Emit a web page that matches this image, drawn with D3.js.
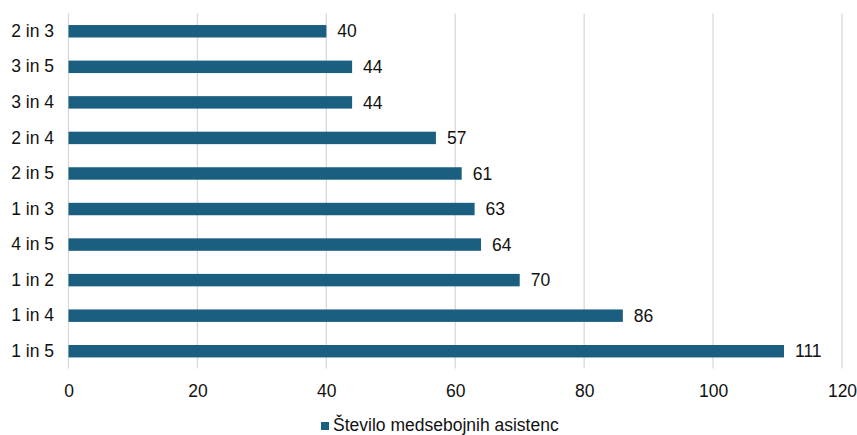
<!DOCTYPE html>
<html>
<head>
<meta charset="utf-8">
<script src="https://cdn.jsdelivr.net/npm/d3@7"></script>
<style>
  html, body { margin: 0; padding: 0; background: #fff; }
  svg text { font-family: "Liberation Sans", Arial, sans-serif; fill: #111; }
</style>
</head>
<body>
<svg id="chart" width="857" height="435"></svg>
<script>
// Pairs, listed top to bottom
const categories = ["2 in 3", "3 in 5", "3 in 4", "2 in 4", "2 in 5", "1 in 3", "4 in 5", "1 in 2", "1 in 4", "1 in 5"];
const values = [40, 44, 44, 57, 61, 63, 64, 70, 86, 111];
const xTicks = [0, 20, 40, 60, 80, 100, 120];
const seriesName = "Število medsebojnih asistenc";

const barColor = "#1a5e80";
const gridColor = "#d9d9d9";
const fontSize = 17.5;

const svg = d3.select("#chart");

const x = d3.scaleLinear().domain([0, 120]).range([68.5, 842]);
const y = d3.scaleBand().domain(categories).range([13.5, 369]).paddingInner(0.65).paddingOuter(0.325);

// vertical gridlines
svg.append("g").selectAll("line").data(xTicks).join("line")
  .attr("x1", d => x(d)).attr("x2", d => x(d))
  .attr("y1", 13.5).attr("y2", 368.5)
  .attr("stroke", gridColor).attr("stroke-width", 1.3);

// x tick labels
const xAxis = d3.axisBottom(x).tickValues(xTicks).tickSize(0).tickPadding(0);
const gx = svg.append("g").attr("transform", "translate(0,397)").call(xAxis);
gx.attr("font-size", null).attr("font-family", null);
gx.select(".domain").remove();
gx.selectAll("text").attr("y", 0).attr("dy", null)
  .style("font-size", fontSize + "px").style("fill", "#111");

// y category labels
const yAxis = d3.axisLeft(y).tickSize(0).tickPadding(0);
const gy = svg.append("g").attr("transform", "translate(54,0)").call(yAxis);
gy.attr("font-size", null).attr("font-family", null);
gy.select(".domain").remove();
gy.selectAll("text").style("font-size", fontSize + "px").style("fill", "#111");

// bars
svg.append("g").selectAll("rect").data(values).join("rect")
  .attr("x", x(0))
  .attr("y", (d, i) => y(categories[i]))
  .attr("width", d => x(d) - x(0))
  .attr("height", y.bandwidth())
  .attr("fill", barColor);

// value labels
svg.append("g").selectAll("text").data(values).join("text")
  .attr("x", d => x(d) + 11)
  .attr("y", (d, i) => y(categories[i]) + y.bandwidth() / 2)
  .attr("dy", "0.35em")
  .style("font-size", fontSize + "px")
  .text(d => d);

// legend
const lg = svg.append("g");
lg.append("rect").attr("x", 321).attr("y", 422).attr("width", 8).attr("height", 8).attr("fill", barColor);
lg.append("text").attr("x", 333).attr("y", 431).style("font-size", fontSize + "px").text(seriesName);
</script>
</body>
</html>
